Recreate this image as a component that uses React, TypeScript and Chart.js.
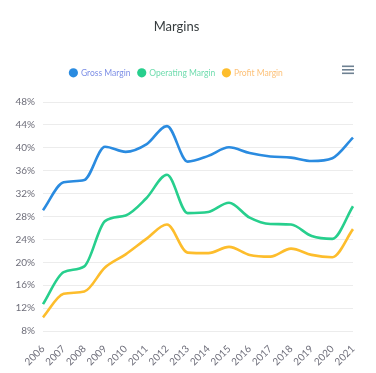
import React, { useEffect, useRef } from "react";
import { Chart, registerables } from "chart.js";

Chart.register(...registerables);

const years = ["2006","2007","2008","2009","2010","2011","2012","2013","2014","2015","2016","2017","2018","2019","2020","2021"];
const grossMargin = [29.1, 34.0, 34.4, 40.2, 39.3, 40.6, 43.8, 37.6, 38.6, 40.1, 39.1, 38.5, 38.3, 37.7, 38.2, 41.8];
const operatingMargin = [12.7, 18.3, 19.3, 27.2, 28.2, 31.2, 35.3, 28.6, 28.8, 30.4, 27.8, 26.7, 26.6, 24.6, 24.1, 29.8];
const profitMargin = [10.4, 14.5, 14.9, 19.1, 21.4, 24.1, 26.6, 21.7, 21.6, 22.7, 21.3, 21.0, 22.4, 21.3, 20.9, 25.8];

const seriesNames = ["Gross Margin", "Operating Margin", "Profit Margin"];
const seriesColors = ["#2a8be0", "#27cf8d", "#fdbd2c"];
const legendTextColors = ["#7d8fe6", "#6fdcae", "#fdc27a"];

const FONT = "Lato, 'Open Sans', sans-serif";

export default function App() {
  const ref = useRef<HTMLCanvasElement | null>(null);
  useEffect(() => {
    document.body.style.margin = "0";
    if (!ref.current) return;
    const menuPlugin = {
      id: "menuIcon",
      beforeInit(chart: any) {
        const lg = chart.legend;
        if (lg) {
          const orig = lg.fit;
          lg.fit = function () {
            orig.call(this);
            this.height += 15;
          };
        }
      },
      afterDraw(chart: any) {
        const ctx = chart.ctx;
        ctx.save();
        ctx.strokeStyle = "#6e8192";
        ctx.lineWidth = 1.6;
        [66.3, 69.8, 73.3].forEach((y) => {
          ctx.beginPath();
          ctx.moveTo(342, y);
          ctx.lineTo(354, y);
          ctx.stroke();
        });
        ctx.restore();
      },
    };
    const data = [grossMargin, operatingMargin, profitMargin];
    const chart = new Chart(ref.current, {
      type: "line",
      data: {
        labels: years,
        datasets: data.map((d, i) => ({
          label: seriesNames[i],
          data: d,
          borderColor: seriesColors[i],
          backgroundColor: seriesColors[i],
          borderWidth: 2.6,
          pointRadius: 0,
          cubicInterpolationMode: "monotone" as const,
          fill: false,
        })),
      },
      options: {
        responsive: false,
        animation: false,
        layout: { padding: { left: 0, right: 23, top: 0, bottom: 0 } },
        plugins: {
          title: {
            display: true,
            text: "Margins",
            color: "#373d3f",
            font: { family: FONT, size: 13, weight: "normal" },
            padding: { top: 19, bottom: 26 },
          },
          legend: {
            position: "top",
            labels: {
              usePointStyle: true,
              pointStyle: "circle",
              boxWidth: 6.5,
              boxHeight: 6.5,
              padding: 8,
              font: { family: FONT, size: 8.5 },
              generateLabels: (chart: any) =>
                chart.data.datasets.map((ds: any, i: number) => ({
                  text: ds.label,
                  fillStyle: seriesColors[i],
                  strokeStyle: seriesColors[i],
                  lineWidth: 0,
                  fontColor: legendTextColors[i],
                  pointStyle: "circle",
                  hidden: false,
                  datasetIndex: i,
                })),
            },
          },
          tooltip: { enabled: false },
        },
        scales: {
          x: {
            offset: false,
            grid: { display: false },
            border: { display: false },
            ticks: {
              color: "#6e6e7a",
              font: { family: FONT, size: 10 },
              minRotation: 45,
              maxRotation: 45,
              padding: 4,
              autoSkip: false,
            },
            afterFit: (s: any) => {
              s.height = 42;
            },
          },
          y: {
            min: 8,
            max: 48,
            grid: { color: "#ececec", drawTicks: false, lineWidth: 1 },
            border: { display: false },
            ticks: {
              stepSize: 4,
              color: "#6e6e7a",
              font: { family: FONT, size: 10 },
              padding: 8,
              callback: (v: any) => v + "%",
            },
            afterFit: (s: any) => {
              s.width = 43;
            },
          },
        },
      },
      plugins: [menuPlugin],
    });
    return () => chart.destroy();
  }, []);
  return <canvas ref={ref} width={376} height={373} style={{ display: "block" }} />;
}
